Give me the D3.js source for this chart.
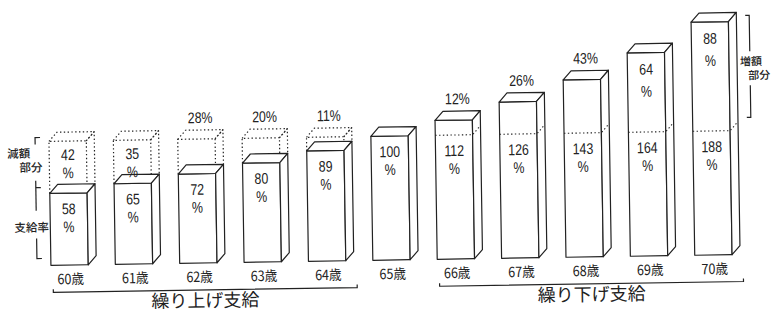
<!DOCTYPE html>
<html>
<head>
<meta charset="utf-8">
<script src="https://cdn.jsdelivr.net/npm/d3@7"></script>
<style>
  body { margin: 0; background: #fff; }
  svg { display: block; }
  .num { font-family: "Liberation Sans", Arial, sans-serif; font-size: 15.5px; fill: #222; }
  .jp { font-family: "Noto Sans CJK JP", sans-serif; fill: #222; }
</style>
</head>
<body>
<svg id="chart"></svg>
<script>
// ages and payout rate (% of the age-65 amount)
const ages = ['60歳', '61歳', '62歳', '63歳', '64歳', '65歳', '66歳', '67歳', '68歳', '69歳', '70歳'];
const rates = [58, 65, 72, 80, 89, 100, 112, 126, 143, 164, 188];
// reduced part (before 65) or increased part (after 65)
const diffs = [42, 35, 28, 20, 11, 0, 12, 26, 43, 64, 88];
const groups = [
  {name: '繰り上げ支給', from: '60歳', to: '64歳'},
  {name: '繰り下げ支給', from: '66歳', to: '70歳'}
];

const W = 783, H = 314;
const dx = 8, dy = -9;   // 3d depth offset
const ink = '#222';
const squeeze = 0.8;     // narrow digits like the original typeface

const svg = d3.select('#chart').attr('width', W).attr('height', H);

// the scan is tilted a little, so the whole drawing is turned with it
const g = svg.append('g').attr('transform', 'rotate(-0.9,392,260)');

const x = d3.scaleBand().domain(ages).range([38, 745]).paddingInner(0.42).paddingOuter(0.2);
const y = d3.scaleLinear().domain([0, 200]).range([260, 12]);
const bw = x.bandwidth();

const data = ages.map((a, i) => ({age: a, rate: rates[i], diff: diffs[i]}));

function box(sel, x0, yTop, yBot, dotted) {
  const pts = [
    [[x0, yTop], [x0 + dx, yTop + dy], [x0 + bw + dx, yTop + dy], [x0 + bw, yTop]],
    [[x0 + bw, yTop], [x0 + bw + dx, yTop + dy], [x0 + bw + dx, yBot + dy], [x0 + bw, yBot]]
  ];
  const st = s => s.attr('fill', dotted ? 'none' : '#fff')
    .attr('stroke', ink)
    .attr('stroke-width', 1.2)
    .attr('stroke-dasharray', dotted ? '1.4,2.4' : null)
    .attr('stroke-linejoin', 'round');
  if (dotted) {
    sel.append('path')
      .attr('d', d3.line()([[x0, yBot], [x0, yTop], [x0 + bw, yTop], [x0 + bw, yBot]]))
      .call(st);
  } else {
    sel.append('rect').attr('x', x0).attr('y', yTop).attr('width', bw).attr('height', yBot - yTop).call(st);
  }
  pts.forEach(p => sel.append('path').attr('d', d3.line()(p) + (dotted ? '' : 'Z')).call(st));
}

function num(sel, cx, base, txt) {
  sel.append('text').attr('class', 'num').attr('text-anchor', 'middle')
    .attr('transform', `translate(${cx},${base}) scale(${squeeze},1)`)
    .text(txt);
}

function twoLine(sel, cx, base, first, gap) {
  num(sel, cx, base, first);
  num(sel, cx, base + gap, '%');
}

data.forEach(d => {
  const x0 = x(d.age);
  const cx = x0 + bw / 2;
  const bar = g.append('g');
  // reduced part drawn as a dotted ghost up to 100%
  if (d.rate < 100) box(bar, x0, y(100), y(d.rate), true);
  box(bar, x0, y(d.rate), y(0), false);
  if (d.rate > 100) {
    bar.append('path')
      .attr('d', d3.line()([[x0, y(100)], [x0 + bw, y(100)], [x0 + bw + dx, y(100) + dy]]))
      .attr('fill', 'none').attr('stroke', ink).attr('stroke-width', 1.1).attr('stroke-dasharray', '1.4,2.4');
  }
  // main rate label
  twoLine(bar, cx, y(Math.min(d.rate, 100)) + 21, d.rate, 18);

  // reduced / increased part label
  if (d.diff > 0) {
    const top = Math.min(y(100), y(d.rate));
    const inside = d.rate < 100 ? d.diff > 30 : d.diff > 50;
    if (inside) {
      if (d.rate < 100) twoLine(bar, cx, y(100) + 19, d.diff, 18);
      else twoLine(bar, cx, y(d.rate) + 22, d.diff, 22);
    } else {
      num(bar, cx + 4, top - 16, d.diff + '%');
    }
  }

  // age label
  g.append('text').attr('class', 'jp').attr('text-anchor', 'middle')
    .attr('transform', `translate(${cx + 1},${y(0) + 19}) scale(0.9,1)`)
    .style('font-size', '14px').text(d.age);
});

// group brackets
groups.forEach(gr => {
  const xa = x(gr.from) + 2, xb = x(gr.to) + bw + dx + 3;
  const yb = y(0) + 27;
  g.append('path')
    .attr('d', d3.line()([[xa, yb - 3], [xa, yb], [xb, yb], [xb, yb - 3]]))
    .attr('fill', 'none').attr('stroke', ink).attr('stroke-width', 1.2);
  g.append('text').attr('class', 'jp').attr('text-anchor', 'middle')
    .attr('x', (xa + xb) / 2).attr('y', y(0) + 44).style('font-size', '18px').text(gr.name);
});

// left annotation
const lx = 37;
const ann = g.append('g').attr('fill', 'none').attr('stroke', ink).attr('stroke-width', 1.2);
ann.append('path').attr('d', d3.line()([[lx + 5, y(100) - 4], [lx, y(100) - 4], [lx, y(100) + 3]]));
ann.append('path').attr('d', d3.line()([[lx, y(58) - 13], [lx, y(58) + 17]]));
ann.append('path').attr('d', d3.line()([[lx, y(58) - 6], [lx + 5, y(58) - 6]]));
ann.append('path').attr('d', d3.line()([[lx, y(0) - 27], [lx, y(0) - 7], [lx + 5, y(0) - 7]]));
g.append('text').attr('class', 'jp').attr('x', 9).attr('y', y(100) + 16).style('font-size', '11.5px').style('font-weight', 500).text('減額');
g.append('text').attr('class', 'jp').attr('x', 21).attr('y', y(100) + 30).style('font-size', '11.5px').style('font-weight', 500).text('部分');
g.append('text').attr('class', 'jp').attr('x', 15).attr('y', y(29) + 2).style('font-size', '11.5px').style('font-weight', 500).text('支給率');

// right annotation
const rx = 753;
ann.append('path').attr('d', d3.line()([[rx - 4, y(188) - 6], [rx, y(188) - 6], [rx, y(188) + 30]]));
ann.append('path').attr('d', d3.line()([[rx, y(100) - 45], [rx, y(100) - 13], [rx - 4, y(100) - 13]]));
g.append('text').attr('class', 'jp').attr('x', 743).attr('y', y(188) + 44).style('font-size', '11px').style('font-weight', 500).text('増額');
g.append('text').attr('class', 'jp').attr('x', 751).attr('y', y(188) + 58).style('font-size', '11px').style('font-weight', 500).text('部分');
</script>
</body>
</html>
